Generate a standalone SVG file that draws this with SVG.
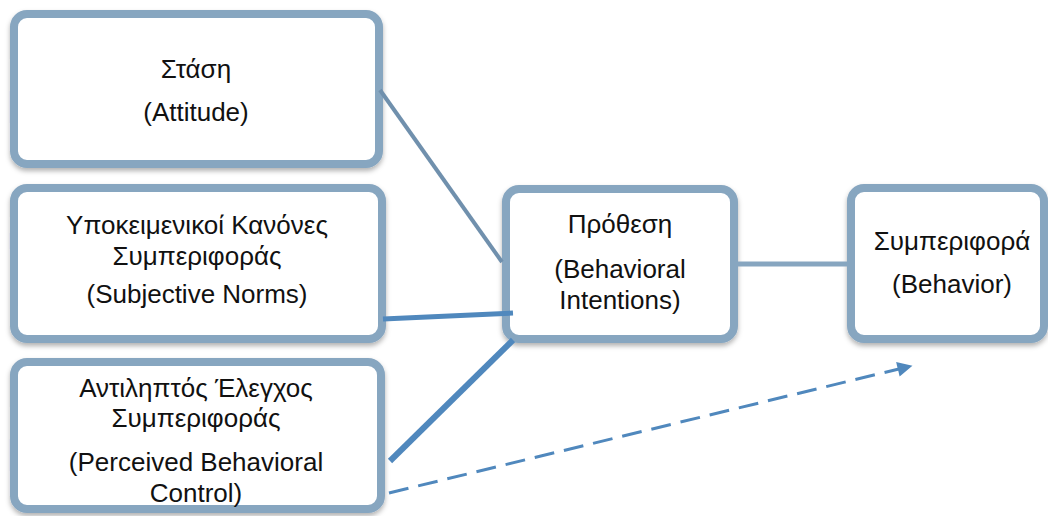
<svg xmlns="http://www.w3.org/2000/svg" width="1048" height="516" viewBox="0 0 1048 516">
<style>
.box{fill:#ffffff;stroke:#87a6c0;stroke-width:8;filter:url(#sh)}
.t{font-family:"Liberation Sans",Arial,sans-serif;font-size:26px;fill:#111111;text-anchor:middle}
</style>
<defs>
<filter id="sh" x="-10%" y="-10%" width="120%" height="130%">
<feDropShadow dx="0" dy="3" stdDeviation="2.5" flood-color="#000000" flood-opacity="0.3"/>
</filter>
<marker id="ah" viewBox="0 0 10 10" refX="9" refY="5" markerWidth="6" markerHeight="5" orient="auto" markerUnits="strokeWidth">
<path d="M0,0 L10,5 L0,10 z" fill="#5088bd"/>
</marker>
</defs>
<rect width="1048" height="516" fill="#ffffff"/>
<g id="node-attitude">
<rect class="box" x="14" y="14" width="365" height="150" rx="13"/>
<text class="t" x="196" y="78">Στάση</text>
<text class="t" x="196" y="121">(Attitude)</text>
</g>
<g id="node-norms">
<rect class="box" x="14" y="188" width="368" height="151" rx="13"/>
<text class="t" x="197" y="234">Υποκειμενικοί Κανόνες</text>
<text class="t" x="197" y="265">Συμπεριφοράς</text>
<text class="t" x="197" y="303">(Subjective Norms)</text>
</g>
<g id="node-control">
<rect class="box" x="14" y="362" width="367" height="147" rx="13"/>
<text class="t" x="196" y="397">Αντιληπτός Έλεγχος</text>
<text class="t" x="196" y="427">Συμπεριφοράς</text>
<text class="t" x="196" y="471">(Perceived Behavioral</text>
<text class="t" x="196" y="502">Control)</text>
</g>
<g id="node-intention">
<rect class="box" x="506" y="189" width="228" height="150" rx="13"/>
<text class="t" x="620" y="233">Πρόθεση</text>
<text class="t" x="620" y="278">(Behavioral</text>
<text class="t" x="620" y="309">Intentions)</text>
</g>
<g id="node-behavior">
<rect class="box" x="851" y="188" width="193" height="151" rx="13"/>
<text class="t" x="952" y="250">Συμπεριφορά</text>
<text class="t" x="952" y="293">(Behavior)</text>
</g>
<g id="connectors" fill="none">
<line x1="380" y1="90" x2="502" y2="262" stroke="#7090ad" stroke-width="4"/>
<line x1="383" y1="319" x2="513" y2="313" stroke="#5088bd" stroke-width="5"/>
<line x1="390" y1="461" x2="513" y2="340" stroke="#5088bd" stroke-width="6"/>
<line x1="738" y1="264" x2="848" y2="264" stroke="#87a6c0" stroke-width="5"/>
<line x1="389" y1="493" x2="911" y2="366" stroke="#5088bd" stroke-width="3" stroke-dasharray="20,10" marker-end="url(#ah)"/>
</g>
</svg>
